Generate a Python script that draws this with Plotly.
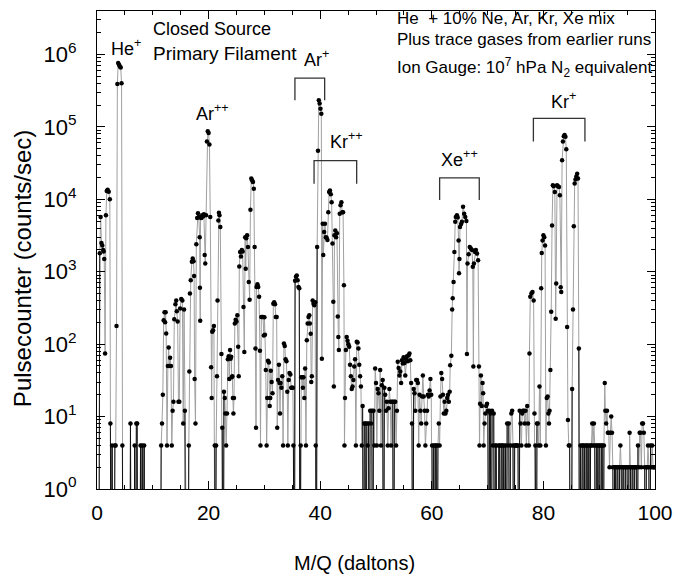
import numpy as np
import plotly.graph_objects as go

# ---------------- data (M/Q in daltons, counts/sec; 0 = no counts) ----------------
mz_a = [0.1, 0.3, 0.5, 0.65, 0.8, 0.95, 1.1, 1.2, 1.3, 1.45,
        1.6, 1.75, 1.9, 2.1, 2.3, 2.4, 2.55, 2.7, 2.85, 3.05,
        3.2, 3.35, 3.5, 3.65, 3.8, 3.95, 4.1, 4.25, 4.4, 4.55, 4.7]
cnt_a = [0, 0, 1800, 5700, 2500, 2300, 2000, 1900, 1500, 74,
         6000, 13000, 13500, 12700, 10000, 8, 0, 4, 0, 0,
         4, 4, 178, 390000, 760000, 720000, 680000, 660000, 400000, 4, 0]

mz_b = [5.85, 6.0, 6.15, 6.6, 6.75, 6.9, 7.05, 7.2, 7.35, 7.65, 7.8, 7.95, 8.1, 8.25, 8.45, 8.6]
cnt_b = [0, 8, 0, 0, 4, 0, 8, 8, 0, 0, 4, 0, 4, 0, 4, 0]

mz_c = [11.35, 11.5, 11.65, 11.8, 11.95, 12.1, 12.2, 12.3, 12.4, 12.55,
        12.7, 12.85, 12.95, 13.1, 13.25, 13.4, 13.55, 13.7, 13.85, 14.05,
        14.2, 14.3, 14.45, 14.6, 14.75, 14.9, 15.1, 15.3, 15.45, 15.6,
        15.75, 15.9, 16.3, 16.45, 16.55, 16.65, 16.8, 17.0, 17.15, 17.3,
        17.4, 17.5, 17.65, 17.8, 17.95, 18.1, 18.25, 18.4, 18.45, 18.5,
        18.55, 18.7, 18.85, 19.0, 19.15, 19.3, 19.4, 19.55, 19.7, 19.85,
        20.0, 20.15, 20.3, 20.45, 20.55, 20.65, 20.8, 20.95, 21.1, 21.2,
        21.35, 21.5, 21.6, 21.75, 21.85, 21.95, 22.1, 22.3, 22.45, 22.6]
cnt_c = [0, 4, 8, 20, 214, 275, 200, 275, 140, 4,
         50, 90, 50, 65, 50, 4, 12, 16, 220, 355,
         400, 285, 205, 16, 16, 310, 420, 400, 8, 300,
         12, 0, 0, 4, 42, 500, 760, 1370, 1520, 1400,
         870, 33, 8, 2400, 5500, 6400, 5700, 3000, 600, 210,
         5600, 5500, 6000, 5800, 6200, 1700, 1300, 6000, 63000, 87000,
         82000, 57000, 5700, 48, 18, 148, 155, 178, 4, 0,
         4, 36, 400, 5100, 6500, 6000, 4150, 73, 7, 0]

mz_d = [22.75, 22.9, 23.0, 23.15, 23.3, 23.45, 23.6, 23.7, 23.85, 23.95,
        24.05, 24.15, 24.25, 24.35, 24.45, 24.55, 24.7, 24.85, 25.0, 25.15,
        25.3, 25.4, 25.5, 25.65, 25.8, 25.95, 26.1, 26.25, 26.4, 26.55,
        26.65, 26.75, 26.9, 27.05, 27.2, 27.35, 27.5, 27.65, 27.8, 27.95,
        28.1, 28.25, 28.4, 28.5, 28.6, 28.75, 28.9, 29.05, 29.2, 29.3,
        29.45, 29.6, 29.75, 29.9, 30.0, 30.1, 30.25, 30.4, 30.5, 30.65,
        30.8, 30.95, 31.05, 31.15, 31.3, 31.45, 31.6, 31.75, 31.9, 32.05,
        32.2, 32.3, 32.45, 32.6, 32.7, 32.8, 32.9, 33.05, 33.2, 33.35,
        33.5, 33.65, 33.8, 33.95, 34.1, 34.2, 34.35, 34.5, 34.65, 34.8,
        34.95, 35.1, 35.2, 35.35]
cnt_d = [22, 18, 11, 4, 11, 62, 68, 33, 83, 63,
         67, 35, 36, 18, 11, 18, 193, 218, 206, 250,
         92, 36, 1180, 1870, 1620, 2000, 1900, 325, 78, 3000,
         1100, 2900, 3200, 2200, 720, 410, 7200, 19400, 18300, 17400,
         14000, 2200, 87, 7, 615, 670, 615, 450, 81, 4,
         237, 237, 237, 132, 235, 135, 44, 4, 18, 59,
         56, 14, 18, 43, 30, 21, 360, 380, 355, 237,
         237, 7, 32, 52, 29, 11, 29, 25, 36, 4,
         102, 94, 62, 58, 22, 4, 32, 40, 38, 25,
         25, 25, 4, 0]

mz_e = [35.5, 35.65, 35.8, 35.95, 36.1, 36.25, 36.4, 36.5, 36.6, 36.75,
        36.9, 37.0, 37.15, 37.3, 37.45, 37.6, 37.75, 37.9, 38.05, 38.15,
        38.3, 38.4, 38.5, 38.65, 38.8, 38.95, 39.1, 39.2, 39.3, 39.45,
        39.6, 39.75, 39.9, 40.05, 40.2, 40.3, 40.45, 40.55, 40.7, 40.85,
        41.0, 41.15, 41.3, 41.45, 41.6, 41.75, 41.9, 42.05, 42.2, 42.35,
        42.45, 42.55, 42.7, 42.85, 43.0, 43.15, 43.25, 43.35, 43.5, 43.65,
        43.8, 43.95, 44.1, 44.25, 44.35, 44.45, 44.6, 44.75, 44.9, 45.05,
        45.2, 45.35, 45.5, 45.65, 45.8, 45.95, 46.1, 46.25, 46.4, 46.55,
        46.7, 46.85, 47.0, 47.15, 47.3, 47.45]
cnt_e = [750, 850, 890, 760, 615, 590, 0, 4, 35, 35,
         25, 35, 18, 46, 4, 113, 193, 237, 250, 193,
         139, 30, 36, 400, 360, 345, 380, 4, 0, 2200,
         47000, 233000, 210000, 178000, 152000, 63, 4600, 1700, 3550, 4600,
         3000, 2950, 2750, 6650, 12600, 13200, 11700, 9100, 2450, 385,
         26, 3200, 3700, 3000, 3400, 240, 126, 83, 6300, 8300,
         9100, 6650, 6650, 650, 4, 18, 83, 126, 111, 100,
         92, 52, 36, 24, 26, 32, 49, 62, 4, 108,
         105, 87, 52, 36, 26, 4]

mz_f = [47.6, 47.75, 47.9, 48.05, 48.2, 48.35, 48.5, 48.65, 48.8, 48.95,
        49.1, 49.25, 49.4, 49.55, 49.7, 49.85, 50.0, 50.15, 50.3, 50.45,
        50.6, 50.75, 50.9, 51.05, 51.2, 51.35, 51.5, 51.65, 51.8, 51.95,
        52.1, 52.25, 52.4, 52.55, 52.7, 52.85, 53.0, 53.15, 53.3, 53.45,
        53.6, 53.75, 53.9, 54.05, 54.2, 54.35, 54.5, 54.65, 54.8, 54.95,
        55.1, 55.25, 55.4, 55.55, 55.7, 55.85, 56.0, 56.15, 56.3, 56.45,
        56.6, 56.75, 56.9, 57.05, 57.2, 57.35, 57.5, 57.65, 57.8, 57.95,
        58.1, 58.25, 58.4, 58.55, 58.7, 58.85, 59.0, 59.15, 59.3, 59.45,
        59.6, 59.75, 59.9, 60.05, 60.2, 60.35, 60.5, 60.65, 60.8, 60.95,
        61.1, 61.25, 61.4, 61.55, 61.7, 61.85, 62.0, 62.15, 62.3, 62.45,
        62.6, 62.75, 62.9, 63.05, 63.2]
cnt_f = [14, 0, 8, 8, 0, 8, 4, 8, 0, 12,
         8, 12, 0, 12, 4, 46, 29, 4, 24, 21,
         12, 44, 4, 27, 32, 0, 25, 20, 12, 16,
         4, 13, 24, 16, 4, 16, 16, 0, 16, 16,
         4, 12, 57, 47, 37, 42, 29, 60, 54, 66,
         55, 37, 62, 68, 58, 70, 74, 60, 29, 8,
         0, 24, 21, 12, 32, 32, 29, 4, 20, 12,
         8, 19, 37, 19, 12, 4, 8, 12, 20, 19,
         23, 33, 20, 4, 0, 4, 0, 4, 4, 0,
         4, 8, 4, 19, 40, 33, 20, 11, 16, 11,
         12, 18, 20, 16, 22]

mz_g = [63.3, 63.5, 63.65, 63.75, 63.9, 64.05, 64.2, 64.3, 64.5, 64.65,
        64.8, 64.88, 64.95, 65.05, 65.25, 65.4, 65.6, 65.8, 66.0, 66.2,
        66.3, 66.4, 66.6, 66.8, 67.0, 67.2, 67.35, 67.45, 67.55, 67.75,
        67.9, 68.1, 68.3, 68.45, 68.55, 68.65, 68.8, 68.95, 69.1, 69.2, 69.3]
cnt_g = [51, 69, 300, 430, 720, 1870, 4900, 5700, 6000, 5600,
         2700, 950, 1500, 4150, 4550, 4900, 7900, 6300, 5700, 5000,
         73, 1300, 1750, 2200, 2100, 2000, 1170, 49, 1300, 1870,
         2000, 1780, 1440, 49, 4, 15, 37, 14, 29, 21, 4]

mz_h = [69.45, 69.6, 69.75, 69.9, 70.05, 70.2, 70.35, 70.5, 70.65, 70.8,
        70.95, 71.1, 71.25, 71.4, 71.55, 71.7, 71.85, 72.0, 72.15, 72.3,
        72.45, 72.6, 72.75, 72.9, 73.05, 73.2, 73.35, 73.5, 73.65, 73.8,
        73.95, 74.1, 74.25, 74.4, 74.55, 74.7, 74.85, 75.0, 75.15, 75.3,
        75.45, 75.6, 75.75, 75.9, 76.05, 76.2, 76.35, 76.5, 76.65, 76.8,
        76.95, 77.1, 77.25, 77.4]
cnt_h = [8, 11, 14, 15, 12, 0, 12, 11, 0, 12,
         4, 11, 0, 4, 4, 0, 0, 4, 4, 0,
         4, 4, 0, 4, 0, 4, 0, 8, 4, 8,
         0, 4, 11, 12, 4, 0, 4, 4, 4, 4,
         4, 0, 12, 8, 4, 11, 12, 12, 8, 12,
         4, 14, 8, 4]

mz_i = [77.5, 77.65, 77.85, 78.05, 78.25, 78.4, 78.55, 78.7, 78.85, 79.0,
        79.15, 79.3, 79.45, 79.6, 79.7, 79.85, 80.0, 80.15, 80.3, 80.45,
        80.6, 80.75, 80.9, 81.0, 81.1, 81.25, 81.4, 81.55, 81.7, 81.85,
        82.05, 82.2, 82.3, 82.45, 82.6, 82.8, 82.95, 83.1, 83.2, 83.35,
        83.5, 83.65, 83.8, 83.95, 84.1, 84.25, 84.4, 84.55, 84.7, 84.85,
        85.0, 85.15, 85.3, 85.45, 85.6, 85.75, 85.9, 86.05, 86.2, 86.35,
        86.5]
cnt_i = [74, 450, 500, 525, 400, 11, 4, 0, 8, 8,
         4, 26, 4, 590, 1820, 2700, 3200, 3000, 2300, 4,
         18, 19, 11, 8, 12, 44, 280, 4350, 15600, 15100,
         12600, 225, 690, 15600, 15100, 14800, 11400, 610, 525, 34600,
         63000, 74000, 77000, 73000, 49000, 173, 9, 4, 4, 0,
         0, 24, 300, 4250, 16500, 18700, 20700, 22600, 19300, 87,
         0]

mz_j = [86.65, 86.8, 86.95, 87.1, 87.25, 87.4, 87.55, 87.7, 87.85, 88.0,
        88.15, 88.3, 88.45, 88.6, 88.75, 88.9, 89.05, 89.2, 89.35, 89.5,
        89.65, 89.8, 89.95, 90.1, 90.25, 90.4, 90.55, 90.7, 90.85, 91.0,
        91.1, 91.25, 91.4, 91.55, 91.7, 91.85, 92.0, 92.15, 92.3, 92.45,
        92.6, 92.75, 92.9, 93.05, 93.2, 93.35, 93.5, 93.65, 93.8, 93.95,
        94.1, 94.25, 94.4, 94.55, 94.7, 94.85, 95.0, 95.15, 95.3, 95.45,
        95.6, 95.75, 95.9, 96.05, 96.2, 96.35, 96.5, 96.65, 96.8, 96.95,
        97.1, 97.25, 97.4, 97.55, 97.7, 97.85, 98.0, 98.15, 98.3, 98.45,
        98.6, 98.75, 98.9, 99.05, 99.2, 99.35, 99.5, 99.65, 99.8, 99.95]
cnt_j = [4, 0, 4, 4, 0, 4, 0, 4, 4, 0,
         4, 0, 4, 4, 8, 4, 8, 4, 0, 4,
         4, 0, 4, 4, 0, 4, 4, 0, 4, 29,
         12, 8, 12, 6, 6, 2, 6, 10, 6, 2,
         0, 2, 2, 0, 2, 2, 0, 2, 4, 2,
         0, 2, 2, 0, 2, 2, 2, 0, 2, 6,
         2, 0, 2, 2, 0, 2, 2, 2, 0, 4,
         2, 6, 6, 2, 8, 8, 6, 2, 0, 2,
         2, 4, 2, 0, 4, 2, 4, 2, 2, 2]

x_tick_vals = [0, 20, 40, 60, 80, 100]
y_tick_vals = [1, 10, 100, 1000, 10000, 100000, 1000000]
y_tick_text = ["10<sup>%d</sup>" % k for k in range(7)]

# ---------------- build ----------------
segs_x = [mz_a, mz_b, mz_c, mz_d, mz_e, mz_f, mz_g, mz_h, mz_i, mz_j]
segs_y = [cnt_a, cnt_b, cnt_c, cnt_d, cnt_e, cnt_f, cnt_g, cnt_h, cnt_i, cnt_j]
xs, ys = [], []
for sx, sy in zip(segs_x, segs_y):
    n = min(len(sx), len(sy))
    xs.extend(sx[:n]); ys.extend(sy[:n])
mz = np.array(xs, dtype=float)
counts = np.array(ys, dtype=float)
FLOOR = 1e-3
y_plot = np.where(counts > 0, counts, FLOOR)   # zero counts fall off the log axis

# segments that drop to zero counts are drawn dark, as in the original
drop_x, drop_y = [], []
for i in range(len(mz) - 1):
    if counts[i] == 0 or counts[i + 1] == 0:
        if counts[i] == 0 and counts[i + 1] == 0:
            continue
        drop_x += [mz[i], mz[i + 1], None]
        drop_y += [y_plot[i], y_plot[i + 1], None]

FONT = "Liberation Sans, Arial, Helvetica, sans-serif"

fig = go.Figure()
fig.add_trace(go.Scatter(
    x=mz, y=y_plot, mode="lines",
    line=dict(color="#a0a0a0", width=1),
    showlegend=False, hoverinfo="skip"))
fig.add_trace(go.Scatter(
    x=drop_x, y=drop_y, mode="lines",
    line=dict(color="#111111", width=1),
    showlegend=False, hoverinfo="skip"))
fig.add_trace(go.Scatter(
    x=mz, y=y_plot, mode="markers",
    marker=dict(color="black", size=4.5),
    showlegend=False, hoverinfo="x+y"))

L, R, T, B = 97, 660, 10, 489
W, H = 683, 577


def px(xp):
    return (xp - L) / (R - L)


def py(yp):
    return (B - yp) / (B - T)


minor_y = [k * 10 ** d for d in range(0, 7) for k in range(2, 10)]

fig.update_layout(
    width=W, height=H,
    margin=dict(l=L, r=W - R, t=T, b=H - B),
    paper_bgcolor="white", plot_bgcolor="white",
    font=dict(family=FONT, color="black"),
    xaxis=dict(range=[0, 100], tickvals=x_tick_vals, ticks="inside", ticklen=8,
               tickwidth=1.3, tickcolor="black", showline=True, linecolor="black",
               linewidth=1.3, mirror="ticks", showgrid=False, zeroline=False,
               tickfont=dict(size=21, family=FONT), ticklabelstandoff=5,
               minor=dict(ticks="inside", dtick=5, tick0=0, ticklen=4, tickwidth=1,
                          tickcolor="black", showgrid=False)),
    yaxis=dict(type="log", range=[0, 6.6], tickvals=y_tick_vals, ticktext=y_tick_text,
               ticks="inside", ticklen=8, tickwidth=1.3, tickcolor="black",
               showline=True, linecolor="black", linewidth=1.3, mirror="ticks",
               showgrid=False, zeroline=False, tickfont=dict(size=22, family=FONT),
               ticklabelstandoff=15,
               minor=dict(ticks="inside", tickvals=minor_y, ticklen=4, tickwidth=1,
                          tickcolor="black", showgrid=False)),
)

ann = []


def add_text(text, xp, yp, size, xanchor="center"):
    ann.append(dict(text=text, x=px(xp), y=py(yp), xref="paper", yref="paper",
                    xanchor=xanchor, yanchor="middle", showarrow=False,
                    font=dict(size=size, family=FONT, color="black")))


add_text("M/Q (daltons)", 357, 563, 20)
add_text("Closed Source", 151, 28, 18, "left")
add_text("Primary Filament", 151, 53, 19, "left")
add_text("He<sup>+</sup>", 126, 47, 18)
add_text("Ar<sup>++</sup>", 214, 112, 18)
add_text("Ar<sup>+</sup>", 318, 58, 18)
add_text("Kr<sup>++</sup>", 349, 140, 18)
add_text("Xe<sup>++</sup>", 463, 158, 18)
add_text("Kr<sup>+</sup>", 568, 100, 18)
add_text("He  + 10% Ne, Ar, Kr, Xe mix", 398, 18, 17, "left")
add_text("Plus trace gases from earlier runs", 398, 39, 17, "left")
add_text("Ion Gauge: 10<sup>7</sup> hPa N<sub>2</sub> equivalent", 398, 67, 17, "left")
ann.append(dict(text="Pulsecounter (counts/sec)", x=px(22), y=py(268), xref="paper",
                yref="paper", xanchor="center", yanchor="middle", textangle=-90,
                showarrow=False, font=dict(size=24, family=FONT, color="black")))
fig.update_layout(annotations=ann)

# brackets marking ion groups
brackets = [(296.7, 326.7, 77.3, 99.5), (316, 359, 160, 183), (442.7, 482.7, 177.3, 199.5),
            (537.3, 589.3, 117.7, 140.7)]
shapes = []
for x1, x2, ytop, ybot in brackets:
    path = "M %f,%f L %f,%f L %f,%f L %f,%f" % (px(x1), py(ybot), px(x1), py(ytop),
                                                px(x2), py(ytop), px(x2), py(ybot))
    shapes.append(dict(type="path", path=path, xref="paper", yref="paper",
                       line=dict(color="#333333", width=1.3)))
fig.update_layout(shapes=shapes)

fig.write_html("out.html")
